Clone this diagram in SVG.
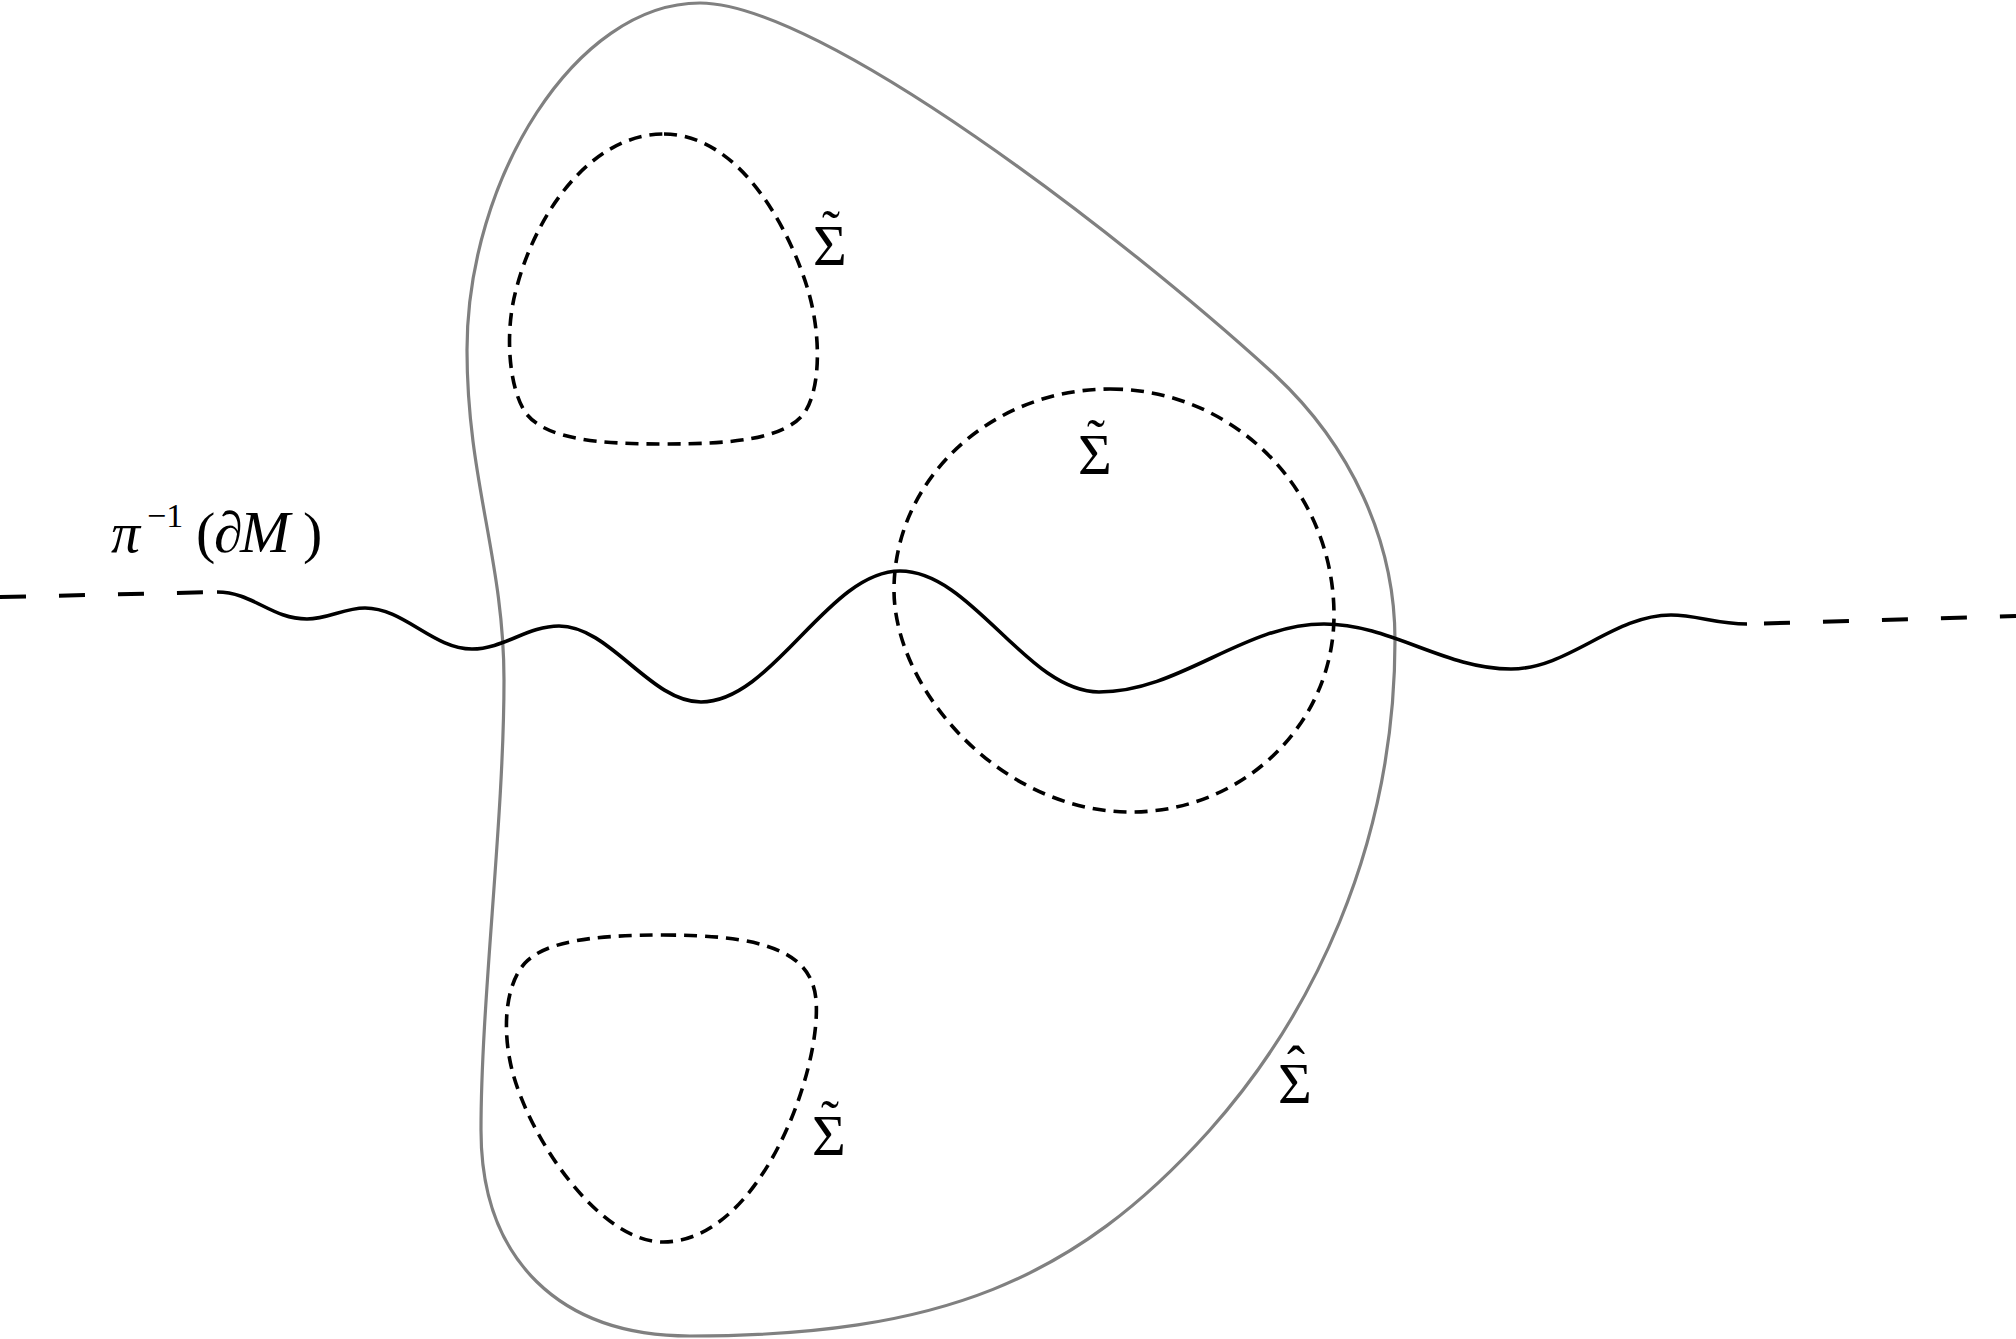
<svg xmlns="http://www.w3.org/2000/svg" width="2016" height="1339" viewBox="0 0 2016 1339">
<style>
.outer{fill:none;stroke:#808080;stroke-width:3.2}
.loop{fill:none;stroke:#000;stroke-width:3.6;stroke-dasharray:13 8}
.wave{fill:none;stroke:#000;stroke-width:3.6}
.wdash{fill:none;stroke:#000;stroke-width:4;stroke-dasharray:26 33}
.lbl{font-family:"Liberation Serif","DejaVu Serif",serif;font-size:58px;fill:#000}
.acc{font-size:54px;text-anchor:middle}
.it{font-style:italic}
</style>
<rect width="2016" height="1339" fill="#fff"/>
<g id="sigma-hat">
<path class="outer" d="M 700,3 C 575,3 467,180 467,350 C 467,480 504,560 504,680 C 504,820 481,1000 481,1130 C 481,1260 560,1336 690,1336 C 940,1336 1075,1280 1209,1131 C 1309,1019 1395,850 1395,640 C 1395,540 1350,445 1275,375 C 1122,235 820,3 700,3 Z"/>
<text class="lbl" x="1278" y="1103">Σ<tspan class="acc" x="1296" y="1084">ˆ</tspan></text>
</g>
<g id="sigma-tilde-top">
<path class="loop" d="M 664,134 C 740,134 790,230 808,290 C 820,330 822,385 805,412 C 785,440 730,444 664,444 C 600,444 545,440 525,412 C 508,385 505,330 516,290 C 535,215 590,134 664,134 Z"/>
<text class="lbl" x="813" y="265">Σ<tspan class="acc" x="831" y="248">˜</tspan></text>
</g>
<g id="sigma-tilde-middle">
<path class="loop" d="M 1110,389 C 1234,389 1334,490 1334,615 C 1334,724 1243,812 1131,812 C 1000,812 894,689 894,590 C 894,479 991,389 1110,389 Z"/>
<text class="lbl" x="1078" y="474">Σ<tspan class="acc" x="1096" y="457">˜</tspan></text>
</g>
<g id="sigma-tilde-bottom">
<path class="loop" d="M 663,935 C 760,935 812,950 816,1000 C 822,1070 760,1242 663,1242 C 600,1242 530,1140 512,1070 C 502,1030 505,985 525,963 C 545,942 590,935 663,935 Z"/>
<text class="lbl" x="812" y="1155">Σ<tspan class="acc" x="830" y="1138">˜</tspan></text>
</g>
<g id="boundary">
<text class="lbl" y="552" font-size="56"><tspan class="it" x="111">π</tspan><tspan x="147" y="527" font-size="34">−1</tspan><tspan x="196" y="552">(</tspan><tspan x="214" class="it">∂</tspan><tspan x="240" class="it" font-size="60">M</tspan><tspan x="303">)</tspan></text>
</g>
<g id="connectors">
<path class="wdash" d="M 0,597 L 217,592"/>
<path class="wave" d="M 217,592 C 253,592 271,619 307,619 C 328,619 344,608 365,608 C 404,608 433,649 472,649 C 503,649 528,626 559,626 C 610,626 650,702 701,702 C 773,702 828,571 900,571 C 972,571 1027,692 1099,692 C 1180,692 1243,624 1324,624 C 1391,624 1444,669 1511,669 C 1569,669 1613,615 1671,615 C 1697,615 1716,624 1747,624"/>
<path class="wdash" d="M 1764,623.5 L 2016,616"/>
</g>
</svg>
